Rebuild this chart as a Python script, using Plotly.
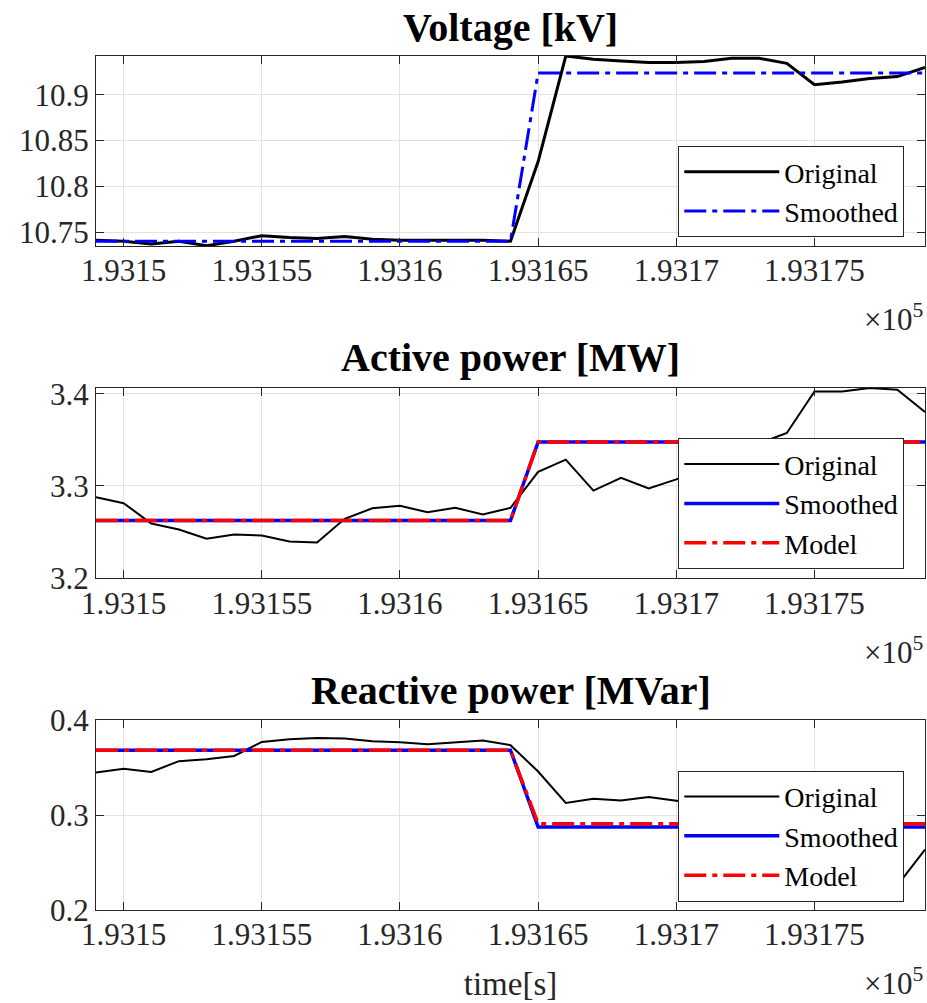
import plotly.graph_objects as go

# ---------------------------------------------------------------- data
time_s = [193149, 193150, 193151, 193152, 193153, 193154, 193155, 193156,
          193157, 193158, 193159, 193160, 193161, 193162, 193163, 193164,
          193165, 193166, 193167, 193168, 193169, 193170, 193171, 193172,
          193173, 193174, 193175, 193176, 193177, 193178, 193179]

voltage_original = [10.741, 10.740, 10.737, 10.740, 10.735, 10.740, 10.746, 10.744,
                    10.743, 10.745, 10.742, 10.741, 10.741, 10.741, 10.741, 10.740,
                    10.827, 10.9425, 10.939, 10.937, 10.9355, 10.9355, 10.9365, 10.940,
                    10.940, 10.9345, 10.911, 10.914, 10.918, 10.920, 10.930]
voltage_smoothed = [10.740, 10.740, 10.740, 10.740, 10.740, 10.740, 10.740, 10.740,
                    10.740, 10.740, 10.740, 10.740, 10.740, 10.740, 10.740, 10.740,
                    10.924, 10.924, 10.924, 10.924, 10.924, 10.924, 10.924, 10.924,
                    10.924, 10.924, 10.924, 10.924, 10.924, 10.924, 10.924]

active_original = [3.2877, 3.2812, 3.2592, 3.2527, 3.2426, 3.2472, 3.2461, 3.2397,
                   3.2386, 3.2642, 3.2757, 3.2783, 3.2714, 3.2762, 3.2689, 3.2762,
                   3.3152, 3.3285, 3.2949, 3.3087, 3.2971, 3.3070, 3.3180, 3.3300,
                   3.3460, 3.3574, 3.4025, 3.4025, 3.4062, 3.4043, 3.3802]
active_smoothed = [3.2624, 3.2624, 3.2624, 3.2624, 3.2624, 3.2624, 3.2624, 3.2624,
                   3.2624, 3.2624, 3.2624, 3.2624, 3.2624, 3.2624, 3.2624, 3.2624,
                   3.3477, 3.3477, 3.3477, 3.3477, 3.3477, 3.3477, 3.3477, 3.3477,
                   3.3477, 3.3477, 3.3477, 3.3477, 3.3477, 3.3477, 3.3477]
active_model = [3.2624, 3.2624, 3.2624, 3.2624, 3.2624, 3.2624, 3.2624, 3.2624,
                3.2624, 3.2624, 3.2624, 3.2624, 3.2624, 3.2624, 3.2624, 3.2624,
                3.3477, 3.3477, 3.3477, 3.3477, 3.3477, 3.3477, 3.3477, 3.3477,
                3.3477, 3.3477, 3.3477, 3.3477, 3.3477, 3.3477, 3.3477]

reactive_original = [0.3447, 0.3486, 0.3454, 0.3567, 0.3588, 0.3622, 0.3769, 0.3797,
                     0.3811, 0.3804, 0.3776, 0.3766, 0.3745, 0.3762, 0.3783, 0.3735,
                     0.3458, 0.3126, 0.3171, 0.3153, 0.3189, 0.3150, 0.3100, 0.3000,
                     0.2800, 0.2500, 0.2220, 0.2155, 0.2190, 0.2260, 0.2636]
reactive_smoothed = [0.3682, 0.3682, 0.3682, 0.3682, 0.3682, 0.3682, 0.3682, 0.3682,
                     0.3682, 0.3682, 0.3682, 0.3682, 0.3682, 0.3682, 0.3682, 0.3682,
                     0.2874, 0.2874, 0.2874, 0.2874, 0.2874, 0.2874, 0.2874, 0.2874,
                     0.2874, 0.2874, 0.2874, 0.2874, 0.2874, 0.2874, 0.2874]
reactive_model = [0.3682, 0.3682, 0.3682, 0.3682, 0.3682, 0.3682, 0.3682, 0.3682,
                  0.3682, 0.3682, 0.3682, 0.3682, 0.3682, 0.3682, 0.3682, 0.3682,
                  0.2909, 0.2909, 0.2909, 0.2909, 0.2909, 0.2909, 0.2909, 0.2909,
                  0.2909, 0.2909, 0.2909, 0.2909, 0.2909, 0.2909, 0.2909]

x_tick_vals = [193150, 193155, 193160, 193165, 193170, 193175]
x_tick_text = ["1.9315", "1.93155", "1.9316", "1.93165", "1.9317", "1.93175"]

voltage_ticks = [10.75, 10.8, 10.85, 10.9]
voltage_tick_text = ["10.75", "10.8", "10.85", "10.9"]
active_ticks = [3.2, 3.3, 3.4]
active_tick_text = ["3.2", "3.3", "3.4"]
reactive_ticks = [0.2, 0.3, 0.4]
reactive_tick_text = ["0.2", "0.3", "0.4"]

panel_titles = ["Voltage [kV]", "Active power [MW]", "Reactive power [MVar]"]

# ---------------------------------------------------------------- styling
W, H = 927, 1003
M_L, M_R, M_T, M_B = 96, 2, 56, 93
PLOT_H = H - M_T - M_B
SERIF = "'Liberation Serif', 'Times New Roman', Times, serif"
INK = "#262626"
DASHDOT = "22px,6px,5px,6px"


def py(pixel_y):
    """Convert a pixel row of the page into a paper y coordinate."""
    return (H - M_B - pixel_y) / PLOT_H


fig = go.Figure()

# Voltage panel
fig.add_trace(go.Scatter(x=time_s, y=voltage_original, mode="lines", name="Original",
                         line=dict(color="black", width=3), xaxis="x", yaxis="y",
                         legend="legend"))
fig.add_trace(go.Scatter(x=time_s, y=voltage_smoothed, mode="lines", name="Smoothed",
                         line=dict(color="#0000ff", width=3, dash=DASHDOT),
                         xaxis="x", yaxis="y", legend="legend"))

# Active power panel
fig.add_trace(go.Scatter(x=time_s, y=active_original, mode="lines", name="Original",
                         line=dict(color="black", width=2), xaxis="x2", yaxis="y2",
                         legend="legend2"))
fig.add_trace(go.Scatter(x=time_s, y=active_smoothed, mode="lines", name="Smoothed",
                         line=dict(color="#0000ff", width=3.5), xaxis="x2", yaxis="y2",
                         legend="legend2"))
fig.add_trace(go.Scatter(x=time_s, y=active_model, mode="lines", name="Model",
                         line=dict(color="#ff0000", width=3.5, dash=DASHDOT),
                         xaxis="x2", yaxis="y2", legend="legend2"))

# Reactive power panel
fig.add_trace(go.Scatter(x=time_s, y=reactive_original, mode="lines", name="Original",
                         line=dict(color="black", width=2), xaxis="x3", yaxis="y3",
                         legend="legend3"))
fig.add_trace(go.Scatter(x=time_s, y=reactive_smoothed, mode="lines", name="Smoothed",
                         line=dict(color="#0000ff", width=3.5), xaxis="x3", yaxis="y3",
                         legend="legend3"))
fig.add_trace(go.Scatter(x=time_s, y=reactive_model, mode="lines", name="Model",
                         line=dict(color="#ff0000", width=3.5, dash=DASHDOT),
                         xaxis="x3", yaxis="y3", legend="legend3"))

axis_common = dict(
    showline=True, linecolor=INK, linewidth=1, mirror="ticks",
    ticks="inside", ticklen=8, tickwidth=1, tickcolor=INK,
    showgrid=True, gridcolor="#e2e2e2", gridwidth=1, zeroline=False,
    tickfont=dict(family=SERIF, size=31, color=INK),
)
x_common = dict(axis_common, range=[193149, 193179], tickmode="array",
                tickvals=x_tick_vals, ticktext=x_tick_text, ticklabelstandoff=-3)

legend_common = dict(
    xanchor="right", yanchor="top", x=0.975,
    bgcolor="white", bordercolor=INK, borderwidth=1,
    font=dict(family=SERIF, size=28, color="black"),
    itemwidth=95, tracegroupgap=0,
)

fig.update_layout(
    width=W, height=H,
    margin=dict(l=M_L, r=M_R, t=M_T, b=M_B),
    paper_bgcolor="white", plot_bgcolor="white",
    font=dict(family=SERIF, color=INK),
    xaxis=dict(x_common, domain=[0, 1], anchor="y"),
    xaxis2=dict(x_common, domain=[0, 1], anchor="y2"),
    xaxis3=dict(x_common, domain=[0, 1], anchor="y3",
                title=dict(text="time[s]", font=dict(family=SERIF, size=33, color=INK),
                           standoff=20)),
    yaxis=dict(axis_common, domain=[py(246), 1.0], anchor="x",
               range=[10.7347, 10.9425], tickmode="array",
               tickvals=voltage_ticks, ticktext=voltage_tick_text),
    yaxis2=dict(axis_common, domain=[py(578.3), py(388)], anchor="x2",
                range=[3.1997, 3.4062], tickmode="array",
                tickvals=active_ticks, ticktext=active_tick_text),
    yaxis3=dict(axis_common, domain=[0, py(720)], anchor="x3",
                range=[0.2, 0.4], tickmode="array",
                tickvals=reactive_ticks, ticktext=reactive_tick_text),
    legend=dict(legend_common, y=py(146)),
    legend2=dict(legend_common, y=py(438.3)),
    legend3=dict(legend_common, y=py(770.7)),
    showlegend=True,
)

# Panel titles
for title, title_y in zip(panel_titles, [27, 358, 690]):
    fig.add_annotation(text=f"<b>{title}</b>", xref="paper", yref="paper",
                       x=0.5, y=py(title_y), xanchor="center", yanchor="middle",
                       showarrow=False,
                       font=dict(family=SERIF, size=40, color="black"))

# Exponent markers under each time axis
for exp_y in [317, 650, 981]:
    fig.add_annotation(text="\u00d710<sup>5</sup>", xref="paper", yref="paper",
                       x=1.0, y=py(exp_y), xanchor="right", yanchor="middle",
                       showarrow=False,
                       font=dict(family=SERIF, size=31, color=INK))

fig.write_html("out.html")
